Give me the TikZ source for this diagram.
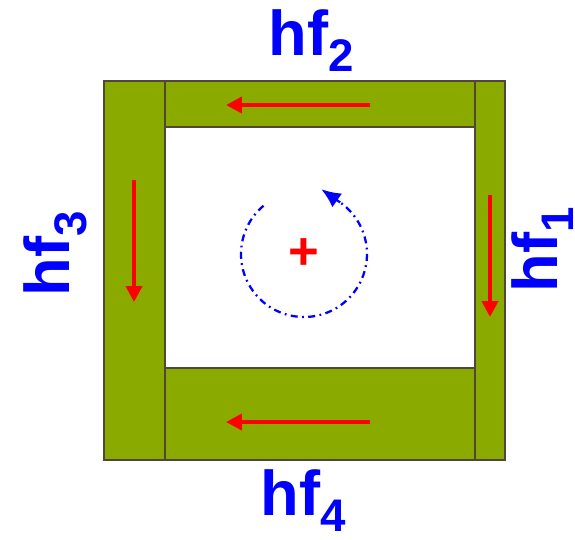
\documentclass[tikz,border=0pt]{standalone}
\usepackage{fontspec}
\setmainfont{Liberation Sans}
\usepackage{tikz}
\usepackage{xcolor}
\usetikzlibrary{arrows.meta,calc}
\definecolor{barfill}{RGB}{139,170,0}
\definecolor{barline}{RGB}{80,70,58}
\newcommand{\hflabel}[1]{hf\raisebox{-9.6pt}{\fontsize{26}{26}\selectfont #1}}

\begin{document}
\begin{tikzpicture}[x=0.02cm,y=-0.02cm,
  bar/.style={fill=barfill,draw=barline,line width=1.1pt},
  flow/.style={red,line width=2.7pt,-{Triangle[length=9pt,width=9pt]}},
  lbl/.style={text=blue,font=\bfseries\fontsize{36}{36}\selectfont,inner sep=0pt,anchor=base}]
\useasboundingbox (0,0) rectangle (575,539);
% bars
\draw[bar] (165,81) rectangle (475,127);
\draw[bar] (165,368) rectangle (475,460);
\draw[bar] (104,81) rectangle (165,460);
\draw[bar] (475,81) rectangle (505,460);
\draw[barline,line width=1.6pt] (104,81) rectangle (505,460);
% flux arrows
\coordinate (t1) at (370,105); \coordinate (t2) at (226,105);
\coordinate (b1) at (370,422); \coordinate (b2) at (226,422);
\coordinate (l1) at (134,180); \coordinate (l2) at (134,302);
\coordinate (r1) at (490,195); \coordinate (r2) at (490,317);
\draw[flow] (t1) -- (t2);
\draw[flow] (b1) -- (b2);
\draw[flow] (l1) -- (l2);
\draw[flow] (r1) -- (r2);
% centre and circulation
\node[red,font=\bfseries\fontsize{30}{30}\selectfont,inner sep=0pt] (ctr) at (304,254) {+};
\draw[blue,line width=1.3pt,dash pattern=on 4pt off 2.5pt on 1pt off 2.5pt]
  ($(ctr.center)+(130:1.26cm)$) arc[start angle=130,end angle=415,radius=1.26cm] coordinate (cend);
\draw[blue,line width=1.3pt,-{Latex[length=11pt,width=9.5pt]}] (cend) -- ++(145:0.46cm);
% labels
\node[lbl] (hf2) at (311,55) {\hflabel{2}};
\node[lbl] (hf4) at (303,515) {\hflabel{4}};
\node[lbl,rotate=90] (hf3) at (70,254) {\hflabel{3}};
\node[lbl,rotate=90] (hf1) at (557,250) {\hflabel{1}};
\end{tikzpicture}
\end{document}
